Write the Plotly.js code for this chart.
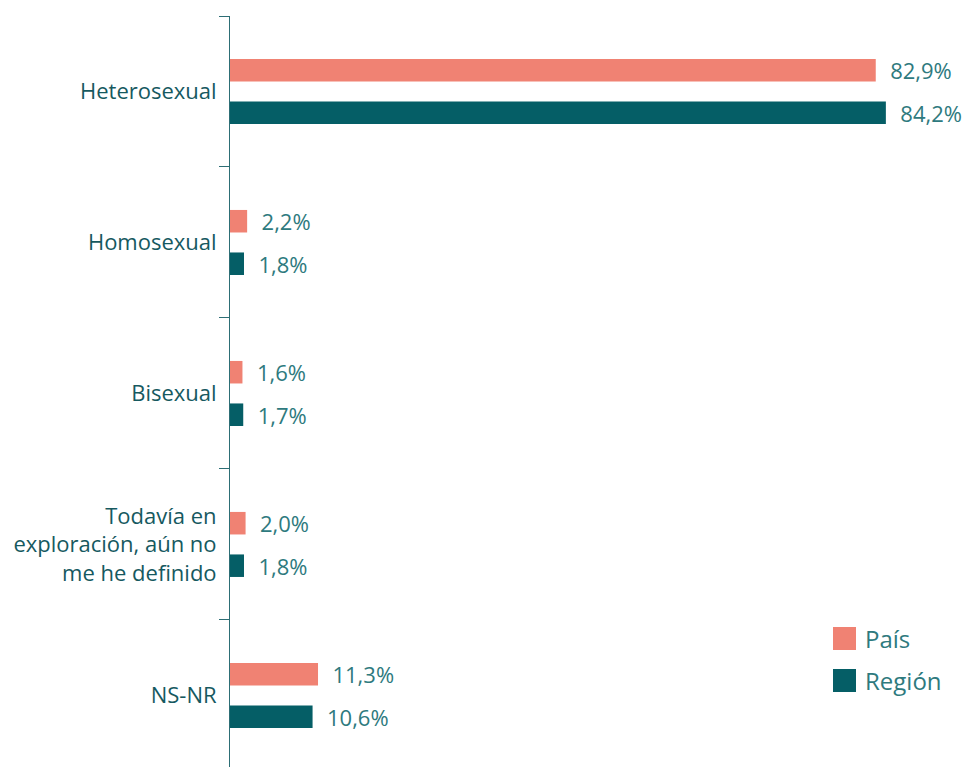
<!DOCTYPE html>
<html>
<head>
<meta charset="utf-8">
<script src="https://cdn.plot.ly/plotly-3.0.1.min.js"></script>
<style>html,body{margin:0;padding:0;background:#fff;}#chart{width:974px;height:767px;}</style>
</head>
<body>
<div id="chart"></div>
<script>
const categories = ["Heterosexual", "Homosexual", "Bisexual", "Todavía en<br>exploración, aún no<br>me he definido", "NS-NR"];
const seriesNames = ["País", "Región"];
const paisValues = [82.9, 2.2, 1.6, 2.0, 11.3];
const regionValues = [84.2, 1.8, 1.7, 1.8, 10.6];
const colors = ["#F08273", "#055E66"];

const fmt = v => "\u00a0\u00a0" + v.toFixed(1).replace(".", ",") + "%";

const traces = [paisValues, regionValues].map((vals, i) => ({
  type: "bar",
  orientation: "h",
  name: seriesNames[i],
  y: categories,
  x: vals,
  marker: {color: colors[i]},
  text: vals.map(fmt),
  textposition: "outside",
  constraintext: "none",
  cliponaxis: false,
  textfont: {family: "Open Sans, sans-serif", size: 22, color: "#2E7A7E"},
  hoverinfo: "skip",
  showlegend: false
}));

// manual legend (larger swatches than Plotly's built-in legend allows)
const shapes = [];
const annotations = [];
seriesNames.forEach((name, i) => {
  const yTop = 627 + i * 42;
  shapes.push({
    type: "rect", xref: "paper", yref: "paper",
    x0: (833 - 230) / 740, x1: (856 - 230) / 740,
    y0: 1 - (yTop + 23 - 16) / 751, y1: 1 - (yTop - 16) / 751,
    fillcolor: colors[i], line: {width: 0}
  });
  annotations.push({
    xref: "paper", yref: "paper",
    x: (863 - 230) / 740, y: 1 - (yTop + 11.5 - 16) / 751,
    xanchor: "left", yanchor: "middle",
    text: name, showarrow: false,
    font: {family: "Open Sans, sans-serif", size: 24, color: "#2E7A7E"}
  });
});

const layout = {
  width: 974, height: 767,
  margin: {l: 230, r: 4, t: 16, b: 0},
  paper_bgcolor: "#ffffff", plot_bgcolor: "#ffffff",
  barmode: "group",
  bargap: 0.437,
  bargroupgap: 0.47,
  showlegend: false,
  xaxis: {
    range: [0, 95], visible: false, fixedrange: true
  },
  yaxis: {
    type: "category",
    range: [4.474, -0.5],
    showline: true, linecolor: "#2D6E75", linewidth: 1,
    ticks: "outside", ticklen: 10, tickcolor: "#2D6E75", tickwidth: 1,
    tickson: "boundaries",
    ticklabelstandoff: 8,
    showgrid: false, zeroline: false,
    tickfont: {family: "Open Sans, sans-serif", size: 22, color: "#16595F"},
    automargin: false
  },
  shapes: shapes,
  annotations: annotations,
  font: {family: "Open Sans, sans-serif"}
};

Plotly.newPlot("chart", traces, layout, {displayModeBar: false, staticPlot: true});
</script>
</body>
</html>
